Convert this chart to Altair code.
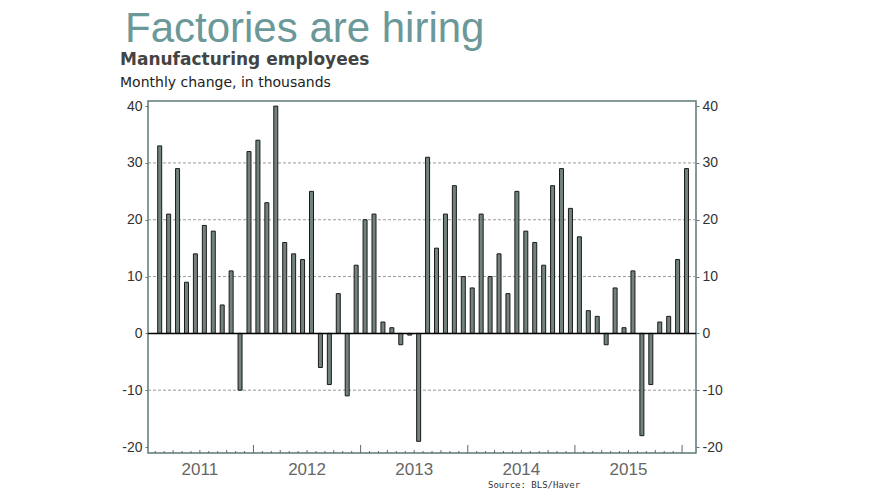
import altair as alt
import pandas as pd

# Monthly change in manufacturing employees, Feb 2011 - Jan 2016 (thousands)
values = [33, 21, 29, 9, 14, 19, 18, 5, 11, -10, 32,
          34, 23, 40, 16, 14, 13, 25, -6, -9, 7, -11, 12,
          20, 21, 2, 1, -2, -0.3, -19, 31, 15, 21, 26, 10,
          8, 21, 10, 14, 7, 25, 18, 16, 12, 26, 29, 22,
          17, 4, 3, -2, 8, 1, 11, -18, -9, 2, 3, 13,
          29]
# month index: 0 = Jan 2011; first bar is Feb 2011
first_month = 1
years = ["2011", "2012", "2013", "2014", "2015"]
y_ticks = [-20, -10, 0, 10, 20, 30, 40]
grid_vals = [-10, 10, 20, 30]

title = "Factories are hiring"
subtitle = "Manufacturing employees"
unit = "Monthly change, in thousands"
source = "Source: BLS/Haver"

W, H = 548, 352
frame = "#5c7a78"

bars_df = pd.DataFrame({
    "m": [first_month + i + 0.5 for i in range(len(values))],
    "v": values,
})
year_df = pd.DataFrame({"m": [12 * i + 6 for i in range(len(years))], "label": years})
bounds = list(range(first_month, first_month + len(values)))
major_df = pd.DataFrame({"m": [b for b in bounds if b % 12 == 0]})
quarter_df = pd.DataFrame({"m": [b for b in bounds if b % 3 == 0 and b % 12 != 0]})
minor_df = pd.DataFrame({"m": [b for b in bounds if b % 3 != 0]})
grid_df = pd.DataFrame({"g": grid_vals})

xs = alt.Scale(domain=[0.75, 61], nice=False, zero=False)
ys = alt.Scale(domain=[-21.05, 40.9], nice=False, zero=False)

axis_common = dict(values=y_ticks, title=None, grid=False, domain=False,
                   labelExpr="'' + datum.value",
                   labelFont="Liberation Sans", labelFontSize=14, labelColor="#333",
                   tickColor=frame, tickSize=3, labelPadding=3)

grid = alt.Chart(grid_df).mark_rule(color="#9a9a9a", strokeDash=[3, 2], strokeWidth=1).encode(
    y=alt.Y("g:Q", scale=ys, axis=alt.Axis(orient="right", **axis_common)),
)

bars = alt.Chart(bars_df).mark_bar(width=4, fill="#72827f", stroke="#1a1a1a", strokeWidth=1).encode(
    x=alt.X("m:Q", scale=xs, axis=None),
    y=alt.Y("v:Q", scale=ys, axis=alt.Axis(orient="left", **axis_common)),
)

zero = alt.Chart(pd.DataFrame({"z": [0]})).mark_rule(color="#000", strokeWidth=1.5).encode(
    y=alt.Y("z:Q", scale=ys, axis=None),
)

def ticks(df, length, width=1):
    return alt.Chart(df).mark_rule(color="#666", strokeWidth=width).encode(
        x=alt.X("m:Q", scale=xs, axis=None),
        y=alt.value(H),
        y2=alt.value(H - length),
    )

year_labels = alt.Chart(year_df).mark_text(font="Liberation Sans", fontSize=17, color="#666",
                                           baseline="middle").encode(
    x=alt.X("m:Q", scale=xs, axis=None),
    y=alt.value(H + 17),
    text="label:N",
)

def label(txt, x, y, **kw):
    return alt.Chart(pd.DataFrame({"t": [txt]})).mark_text(align="left", baseline="alphabetic", **kw).encode(
        x=alt.value(x), y=alt.value(y), text="t:N")

t1 = label(title, -23, -59, font="Liberation Sans", fontSize=42, color="#6b9898")
t2 = label(subtitle, -28, -36, font="DejaVu Sans", fontSize=17, fontWeight="bold", color="#444")
t3 = label(unit, -28, -14, font="DejaVu Sans", fontSize=14, color="#222")
t4 = label(source, 340, 387, font="DejaVu Sans Mono", fontSize=9, color="#333")

chart = alt.layer(
    grid, bars, zero,
    ticks(minor_df, 2), ticks(quarter_df, 3), ticks(major_df, 8),
    year_labels, t1, t2, t3, t4,
).resolve_axis(y="independent").properties(
    width=W, height=H,
    background="white",
    autosize=alt.AutoSizeParams(type="none"),
    padding={"left": 140, "top": 93, "right": 60, "bottom": 40},
).configure_view(stroke=frame, strokeWidth=1.5)

chart.save("out.html", embed_options={"renderer": "svg", "actions": False})
